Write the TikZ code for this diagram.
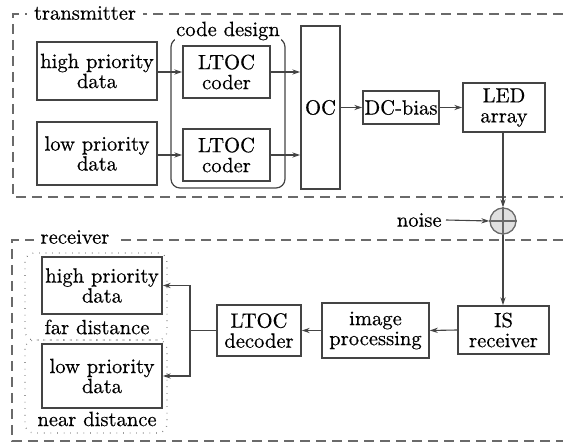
\documentclass[tikz,border=0pt]{standalone}
\usepackage{fontspec}
\setmainfont{Latin Modern Roman}[FakeBold=0.45]
\usetikzlibrary{arrows.meta,calc}
\definecolor{ln}{HTML}{444444}
\definecolor{fr}{HTML}{6A6A6A}
\begin{document}
\begin{tikzpicture}[x=0.5pt,y=-0.5pt,
  every node/.style={font=\fontsize{10.3}{10}\selectfont, text=black},
  blk/.style={draw=ln, line width=0.75pt, inner sep=0pt, align=center, fill=white},
  lbl/.style={fill=white, inner xsep=3.5pt, inner ysep=1pt},
  frame/.style={draw=fr, line width=0.65pt, dash pattern=on 5pt off 3pt},
  dotreg/.style={draw=fr, line width=0.6pt, dash pattern=on 0.3pt off 3pt, rounded corners=4.5pt},
  conn/.style={draw=ln, line width=0.55pt, -{Stealth[length=4pt,width=2.6pt]}},
  plain/.style={draw=ln, line width=0.55pt}]
\useasboundingbox (0,0) rectangle (563,443);
% frames
\draw[frame] (563,14) -- (13,14) -- (13,197) -- (563,197);
\node[lbl] (tx) at (85,13) {transmitter};
\draw[frame] (563,240) -- (12,240) -- (12,441) -- (563,441);
\node[lbl] (rx) at (75,237) {receiver};
% code design group
\draw[draw=ln, line width=0.6pt, rounded corners=4.5pt] (171,38) rectangle (285,188);
\node[lbl, inner xsep=0.5pt] (cdl) at (228,31) {code design};
% transmitter blocks
\node[blk, minimum width=60pt, minimum height=29pt] (hp) at (97,71) {high priority\\data};
\node[blk, minimum width=60pt, minimum height=31.5pt] (lp) at (97,153.5) {low priority\\data};
\node[blk, minimum width=43.5pt, minimum height=26pt] (c1) at (226.5,72) {LTOC\\coder};
\node[blk, minimum width=43.5pt, minimum height=26pt] (c2) at (226.5,155) {LTOC\\coder};
\node[blk, minimum width=19.5pt, minimum height=81.5pt] (oc) at (320.5,107.5) {OC};
\node[blk, minimum width=38pt, minimum height=16.5pt] (dc) at (401,107.5) {DC-bias};
\node[blk, minimum width=41pt, minimum height=24.5pt] (led) at (504,107.5) {LED\\array};
% adder
\node[circle, draw=fr, line width=0.65pt, fill=black!12, minimum size=13pt, inner sep=0pt] (sum) at (503,221) {};
\draw[fr, line width=0.55pt] (sum.north) -- (sum.south) (sum.west) -- (sum.east);
\node[anchor=east, inner sep=1pt] (noise) at (444,220) {noise};
% receiver blocks
\node[blk, minimum width=45.5pt, minimum height=24pt] (isr) at (503.5,330) {IS\\receiver};
\node[blk, minimum width=53.5pt, minimum height=27.5pt] (ip) at (375.5,330.5) {image\\processing};
\node[blk, minimum width=42pt, minimum height=25.5pt] (dec) at (259,330.5) {LTOC\\decoder};
\draw[dotreg] (25,253) rectangle (167,340);
\draw[dotreg] (25,340) rectangle (167,433);
\node[blk, minimum width=60pt, minimum height=28.5pt] (rhp) at (102,285.5) {high priority\\data};
\node[blk, minimum width=60pt, minimum height=32pt] (rlp) at (102,376) {low priority\\data};
\node (far) at (97,327) {far distance};
\node (near) at (97,419) {near distance};
% connectors
\draw[conn] (hp.east |- c1.west) -- (c1.west);
\draw[conn] (lp.east |- c2.west) -- (c2.west);
\draw[conn] (c1.east) -- (c1.east -| oc.west);
\draw[conn] (c2.east) -- (c2.east -| oc.west);
\draw[conn] (oc.east |- dc.west) -- (dc.west);
\draw[conn] (dc.east) -- (led.west);
\draw[conn] (led.south -| sum.north) -- (sum.north);
\draw[conn] ([xshift=1pt]noise.east) -- (sum.west);
\draw[conn] (sum.south) -- (sum.south |- isr.north);
\draw[conn] (isr.west) -- (ip.west -| ip.east);
\draw[conn] (ip.west) -- (dec.east);
\coordinate (br) at (190,330.5);
\draw[plain] (dec.west) -- (br);
\draw[conn] (br) |- (rhp.east);
\draw[conn] (br) |- (rlp.east);
\end{tikzpicture}
\end{document}
